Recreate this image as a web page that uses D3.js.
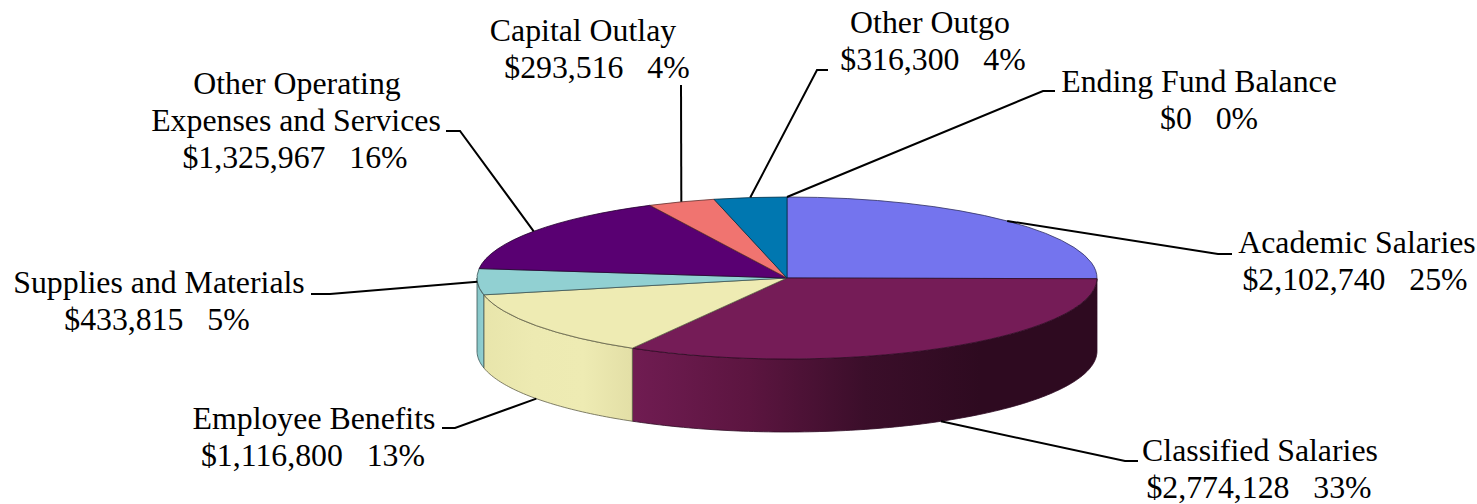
<!DOCTYPE html>
<html><head><meta charset="utf-8">
<script src="https://cdnjs.cloudflare.com/ajax/libs/d3/7.8.5/d3.min.js"></script>
<style>html,body{margin:0;padding:0;background:#fff;overflow:hidden}svg{display:block}text{font-family:"Liberation Serif",serif;font-size:31.8px;fill:#000}</style>
</head><body><svg id="c" width="1477" height="504"></svg>
<script>
const categories=["Academic Salaries","Classified Salaries","Employee Benefits","Supplies and Materials","Other Operating Expenses and Services","Capital Outlay","Other Outgo","Ending Fund Balance"];
const amounts=[2102740,2774128,1116800,433815,1325967,293516,316300,0];
const percents=[25,33,13,5,16,4,4,0];
const topColors=["#7474ee","#751c57","#eeebb3","#91d0d2","#590072","#f07470","#0077b0","#000000"];
const wallStops=[[],["#701c52","#5c1540","#3b0e2a","#2e0a20","#2e0a20"],["#e8e5ab","#edeab2","#eeebb3","#e3dfa6"],["#86c6c8","#91d0d2"],[],[],[],[]];
// label layout: name lines, centre x of each line (value line last), first baseline, leader path after the pie anchor
const labelLines=[["Academic Salaries"],["Classified Salaries"],["Employee Benefits"],["Supplies and Materials"],["Other Operating","Expenses and Services"],["Capital Outlay"],["Other Outgo"],["Ending Fund Balance"]];
const labelCenters=[[1357,1355],[1260,1259],[314,313],[159,157],[297,296,295],[583,597],[930,933],[1199,1209]];
const labelBase=[253,461,429,293,94,41,33,92];
const leaderEnds=[[[1218,254],[1232,254]],[[1125,461],[1138,461]],[[455,428],[442,428]],[[330,294],[311,294]],[[460,131],[446,131]],[[681,85]],[[817,70],[828,70]],[[1043,91],[1055,91]]];

const cx=787,cy=278,rx=310,ry=81,depth=73;
const svg=d3.select("#c"),defs=svg.append("defs");
const pie=d3.pie().sort(null).value(d=>d)(amounts);
const px=d3.scaleLinear().domain([-1,1]).range([cx-rx,cx+rx]);
const py=d3.scaleLinear().domain([-1,1]).range([cy-ry,cy+ry]);
const pt=(a,dz=0)=>[px(Math.sin(a)),py(-Math.cos(a))+dz];
const line=d3.line().curve(d3.curveLinear);
const fmt=d3.format("$,");
const edge=i=>d3.color(topColors[i]).darker(2.5);

// walls (only the front half of the rim is visible)
const HALF=Math.PI/2, END=3*Math.PI/2;
pie.forEach((s,i)=>{
  const a0=Math.max(s.startAngle,HALF),a1=Math.min(s.endAngle,END);
  if(a1<=a0||!wallStops[i].length) return;
  const n=Math.ceil((a1-a0)*60);
  const as=d3.range(n+1).map(k=>a0+(a1-a0)*k/n);
  const upper=as.map(a=>pt(a)),lower=as.map(a=>pt(a,depth)).reverse();
  const xs=upper.map(p=>p[0]),gid="w"+i;
  const g=defs.append("linearGradient").attr("id",gid).attr("gradientUnits","userSpaceOnUse")
    .attr("x1",d3.max(xs)).attr("x2",d3.min(xs)).attr("y1",0).attr("y2",0);
  const stops=wallStops[i].slice().reverse();
  stops.forEach((c,k)=>g.append("stop").attr("offset",k/(stops.length-1)).attr("stop-color",c));
  svg.append("path").attr("d",line(upper.concat(lower))+"Z").attr("fill",`url(#${gid})`)
    .attr("stroke",edge(i)).attr("stroke-width",1).attr("stroke-opacity",.8);
});

// top faces
const arc=d3.arc().innerRadius(0).outerRadius(rx);
const topFace=svg.append("g").attr("transform",`translate(${cx},${cy}) scale(1,${ry/rx})`);
topFace.selectAll("path").data(pie.filter(s=>s.value>0)).join("path").attr("d",arc)
  .attr("fill",s=>topColors[s.index])
  .attr("stroke",s=>edge(s.index)).attr("stroke-width",1).attr("stroke-opacity",.8)
  .attr("vector-effect","non-scaling-stroke");

// leaders
pie.forEach((s,i)=>{
  const a=(s.startAngle+s.endAngle)/2;
  const front=Math.cos(a)<-0.05;
  const start=pt(a,front?depth:0);
  svg.append("path").attr("d",line([start,...leaderEnds[i]])).attr("fill","none").attr("stroke","#000").attr("stroke-width",2);
});

// labels
categories.forEach((c,i)=>{
  const rows=[...labelLines[i],`${fmt(amounts[i])}\u00a0\u00a0\u00a0${percents[i]}%`];
  svg.append("g").selectAll("text").data(rows).join("text")
    .attr("text-anchor","middle")
    .attr("x",(d,k)=>labelCenters[i][k])
    .attr("y",(d,k)=>labelBase[i]+k*37)
    .text(d=>d);
});
</script></body></html>
